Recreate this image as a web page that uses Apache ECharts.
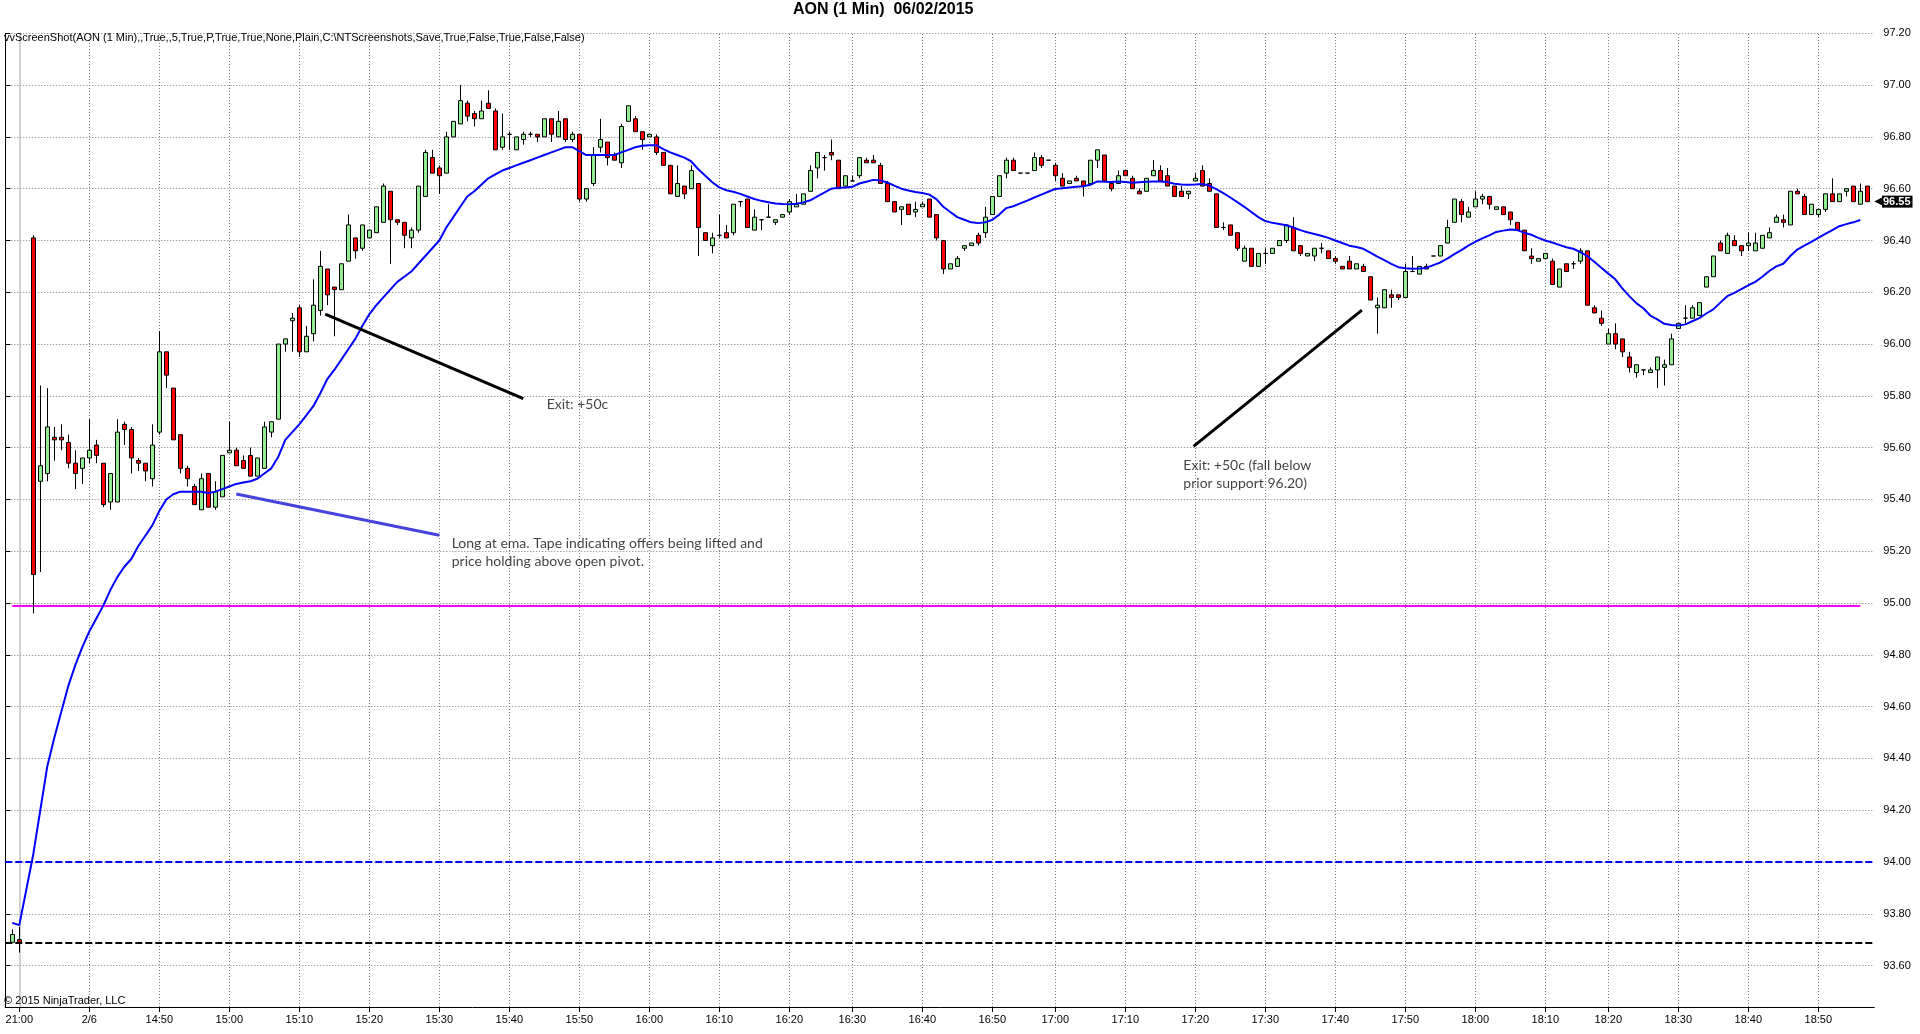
<!DOCTYPE html>
<html>
<head>
<meta charset="utf-8">
<script src="https://cdn.jsdelivr.net/npm/echarts@6/dist/echarts.min.js"></script>
<style>html,body{margin:0;padding:0;background:#fff;}#main{width:1920px;height:1034px;}</style>
</head>
<body>
<div id="main"></div>
<script>
// ---------------- data ----------------
const preSessionTimes = ['20:59', '21:00'];
const sessionFirst = '14:31';
const sessionLast = '18:57';
const missingMinutes = ['16:25', '16:55', '18:15'];

// OHLC per slot (slot 0 and last slot are empty padding, slot 3 has no bar)
const opens = [
  null, 93.69, 93.70, null, 96.41, 95.47, 95.50, 95.64, 95.64, 95.62,
  95.54, 95.52, 95.56, 95.61, 95.54, 95.39, 95.39, 95.69, 95.67, 95.55,
  95.54, 95.48, 95.66, 95.97, 95.83, 95.65, 95.52, 95.45, 95.36, 95.50,
  95.37, 95.41, 95.58, 95.59, 95.55, 95.57, 95.49, 95.52, 95.66, 95.71,
  96.00, 96.09, 96.14, 95.97, 96.04, 96.13, 96.29, 96.22, 96.21, 96.32,
  96.41, 96.37, 96.41, 96.43, 96.47, 96.59, 96.48, 96.47, 96.41, 96.44,
  96.57, 96.72, 96.68, 96.66, 96.80, 96.85, 96.93, 96.89, 96.87, 96.93,
  96.90, 96.76, 96.81, 96.75, 96.79, 96.81, 96.81, 96.80, 96.87, 96.80,
  96.87, 96.79, 96.81, 96.56, 96.62, 96.76, 96.78, 96.73, 96.70, 96.86,
  96.87, 96.82, 96.80, 96.80, 96.74, 96.69, 96.57, 96.61, 96.60, 96.62,
  96.43, 96.38, 96.42, 96.43, 96.43, 96.55, 96.56, 96.44, 96.48, 96.49,
  96.47, 96.49, 96.51, 96.53, 96.54, 96.59, 96.68, 96.72, 96.74, 96.71,
  96.61, 96.63, 96.65, 96.71, 96.71, 96.69, 96.62, 96.55, 96.52, 96.54,
  96.51, 96.53, 96.56, 96.50, 96.40, 96.29, 96.30, 96.37, 96.38, 96.42,
  96.43, 96.50, 96.57, 96.66, 96.71, 96.66, 96.66, 96.67, 96.72, 96.71,
  96.69, 96.64, 96.62, 96.64, 96.63, 96.62, 96.71, 96.73, 96.62, 96.62,
  96.67, 96.64, 96.59, 96.59, 96.65, 96.67, 96.65, 96.61, 96.59, 96.58,
  96.63, 96.67, 96.62, 96.58, 96.45, 96.46, 96.43, 96.32, 96.37, 96.30,
  96.35, 96.35, 96.38, 96.40, 96.45, 96.38, 96.34, 96.34, 96.37, 96.36,
  96.33, 96.30, 96.32, 96.29, 96.30, 96.26, 96.14, 96.14, 96.19, 96.19,
  96.18, 96.28, 96.27, 96.30, 96.34, 96.34, 96.39, 96.47, 96.55, 96.49,
  96.53, 96.56, 96.57, 96.52, 96.53, 96.51, 96.47, 96.44, 96.34, 96.32,
  96.33, 96.32, 96.22, 96.31, 96.31, 96.32, 96.36, 96.14, 96.10, 96.00,
  96.04, 96.02, 95.95, 95.89, 95.90, 95.89, 95.90, 95.91, 95.92, 96.06,
  96.10, 96.10, 96.11, 96.22, 96.26, 96.39, 96.35, 96.40, 96.38, 96.38,
  96.36, 96.37, 96.41, 96.47, 96.48, 96.46, 96.59, 96.57, 96.50, 96.50,
  96.52, 96.58, 96.55, 96.59, 96.61, 96.54, 96.61, null
];
const highs = [
  null, 93.74, 93.75, null, 96.42, 95.84, 95.83, 95.68, 95.69, 95.65,
  95.59, 95.56, 95.71, 95.63, 95.54, 95.50, 95.71, 95.70, 95.68, 95.56,
  95.54, 95.69, 96.05, 95.97, 95.83, 95.65, 95.53, 95.46, 95.50, 95.50,
  95.47, 95.57, 95.70, 95.60, 95.57, 95.60, 95.56, 95.70, 95.70, 96.00,
  96.02, 96.12, 96.15, 96.07, 96.25, 96.36, 96.29, 96.22, 96.31, 96.50,
  96.41, 96.46, 96.44, 96.53, 96.62, 96.59, 96.48, 96.47, 96.45, 96.61,
  96.75, 96.75, 96.69, 96.82, 96.86, 97.00, 96.94, 96.90, 96.94, 96.98,
  96.91, 96.89, 96.82, 96.80, 96.82, 96.82, 96.81, 96.87, 96.87, 96.90,
  96.87, 96.82, 96.81, 96.60, 96.76, 96.87, 96.78, 96.74, 96.85, 96.92,
  96.88, 96.82, 96.81, 96.81, 96.74, 96.69, 96.69, 96.61, 96.69, 96.62,
  96.43, 96.43, 96.50, 96.46, 96.54, 96.55, 96.56, 96.52, 96.48, 96.54,
  96.48, 96.50, 96.56, 96.58, 96.58, 96.69, 96.74, 96.73, 96.79, 96.71,
  96.65, 96.65, 96.72, 96.72, 96.73, 96.70, 96.63, 96.55, 96.53, 96.54,
  96.55, 96.55, 96.56, 96.50, 96.40, 96.31, 96.34, 96.38, 96.39, 96.43,
  96.53, 96.57, 96.65, 96.72, 96.72, 96.66, 96.66, 96.74, 96.73, 96.71,
  96.70, 96.66, 96.63, 96.65, 96.63, 96.71, 96.75, 96.73, 96.62, 96.67,
  96.67, 96.65, 96.60, 96.64, 96.71, 96.69, 96.68, 96.61, 96.61, 96.59,
  96.66, 96.69, 96.64, 96.58, 96.47, 96.46, 96.43, 96.38, 96.37, 96.35,
  96.37, 96.37, 96.40, 96.46, 96.49, 96.38, 96.35, 96.37, 96.39, 96.36,
  96.34, 96.30, 96.34, 96.31, 96.31, 96.26, 96.18, 96.21, 96.21, 96.19,
  96.31, 96.34, 96.30, 96.31, 96.34, 96.38, 96.48, 96.56, 96.56, 96.53,
  96.59, 96.58, 96.57, 96.53, 96.53, 96.51, 96.47, 96.44, 96.37, 96.33,
  96.35, 96.33, 96.29, 96.31, 96.32, 96.37, 96.36, 96.15, 96.13, 96.06,
  96.08, 96.02, 95.97, 95.92, 95.90, 95.91, 95.95, 95.94, 96.04, 96.08,
  96.15, 96.15, 96.16, 96.26, 96.34, 96.40, 96.43, 96.42, 96.38, 96.43,
  96.43, 96.42, 96.45, 96.50, 96.50, 96.59, 96.60, 96.58, 96.54, 96.52,
  96.58, 96.64, 96.58, 96.60, 96.61, 96.62, 96.61, null
];
const lows = [
  null, 93.69, 93.65, null, 94.96, 95.12, 95.47, 95.55, 95.59, 95.52,
  95.44, 95.46, 95.54, 95.54, 95.37, 95.36, 95.39, 95.61, 95.50, 95.51,
  95.47, 95.45, 95.65, 95.83, 95.63, 95.50, 95.45, 95.38, 95.36, 95.37,
  95.36, 95.41, 95.58, 95.53, 95.52, 95.49, 95.49, 95.52, 95.64, 95.71,
  95.97, 95.97, 95.95, 95.97, 96.01, 96.11, 96.15, 96.03, 96.21, 96.32,
  96.33, 96.36, 96.41, 96.43, 96.47, 96.31, 96.46, 96.37, 96.37, 96.43,
  96.57, 96.66, 96.58, 96.66, 96.80, 96.85, 96.86, 96.84, 96.87, 96.91,
  96.75, 96.75, 96.75, 96.75, 96.77, 96.80, 96.78, 96.80, 96.78, 96.80,
  96.78, 96.78, 96.55, 96.55, 96.61, 96.74, 96.69, 96.71, 96.68, 96.86,
  96.82, 96.75, 96.80, 96.73, 96.69, 96.58, 96.57, 96.56, 96.60, 96.34,
  96.40, 96.35, 96.41, 96.41, 96.42, 96.53, 96.45, 96.44, 96.44, 96.49,
  96.46, 96.49, 96.50, 96.53, 96.54, 96.59, 96.64, 96.67, 96.71, 96.60,
  96.61, 96.63, 96.64, 96.70, 96.70, 96.62, 96.55, 96.51, 96.46, 96.50,
  96.49, 96.53, 96.49, 96.40, 96.27, 96.29, 96.30, 96.36, 96.38, 96.38,
  96.41, 96.50, 96.57, 96.64, 96.67, 96.66, 96.66, 96.67, 96.68, 96.71,
  96.63, 96.61, 96.62, 96.63, 96.57, 96.62, 96.68, 96.63, 96.59, 96.62,
  96.65, 96.60, 96.58, 96.59, 96.65, 96.63, 96.61, 96.57, 96.57, 96.56,
  96.63, 96.61, 96.59, 96.45, 96.44, 96.42, 96.36, 96.32, 96.30, 96.30,
  96.31, 96.35, 96.38, 96.39, 96.36, 96.34, 96.34, 96.32, 96.35, 96.33,
  96.31, 96.29, 96.29, 96.29, 96.28, 96.17, 96.04, 96.14, 96.14, 96.17,
  96.18, 96.28, 96.27, 96.29, 96.34, 96.34, 96.39, 96.47, 96.47, 96.49,
  96.53, 96.54, 96.52, 96.52, 96.50, 96.46, 96.44, 96.36, 96.31, 96.32,
  96.33, 96.23, 96.22, 96.28, 96.29, 96.31, 96.15, 96.12, 96.07, 96.00,
  95.98, 95.95, 95.89, 95.87, 95.88, 95.89, 95.83, 95.84, 95.92, 96.06,
  96.08, 96.10, 96.11, 96.22, 96.26, 96.36, 96.35, 96.38, 96.34, 96.36,
  96.36, 96.37, 96.41, 96.47, 96.45, 96.46, 96.58, 96.50, 96.50, 96.49,
  96.51, 96.55, 96.55, 96.57, 96.55, 96.54, 96.55, null
];
const closes = [
  null, 93.72, 93.69, null, 95.11, 95.53, 95.68, 95.63, 95.63, 95.54,
  95.50, 95.56, 95.59, 95.57, 95.38, 95.50, 95.66, 95.67, 95.56, 95.54,
  95.51, 95.61, 95.97, 95.88, 95.63, 95.52, 95.48, 95.38, 95.48, 95.37,
  95.43, 95.57, 95.59, 95.53, 95.52, 95.49, 95.56, 95.68, 95.70, 96.00,
  96.02, 96.10, 95.97, 96.03, 96.15, 96.30, 96.19, 96.21, 96.31, 96.46,
  96.36, 96.46, 96.44, 96.53, 96.61, 96.48, 96.47, 96.42, 96.44, 96.61,
  96.74, 96.66, 96.65, 96.80, 96.86, 96.94, 96.88, 96.87, 96.90, 96.91,
  96.75, 96.80, 96.81, 96.80, 96.81, 96.81, 96.80, 96.87, 96.81, 96.86,
  96.79, 96.81, 96.56, 96.60, 96.73, 96.79, 96.72, 96.71, 96.84, 96.92,
  96.82, 96.79, 96.81, 96.74, 96.69, 96.58, 96.62, 96.58, 96.67, 96.45,
  96.40, 96.41, 96.42, 96.41, 96.54, 96.55, 96.45, 96.49, 96.48, 96.49,
  96.48, 96.50, 96.55, 96.54, 96.58, 96.67, 96.74, 96.72, 96.73, 96.60,
  96.65, 96.63, 96.72, 96.70, 96.70, 96.62, 96.55, 96.51, 96.53, 96.50,
  96.52, 96.54, 96.49, 96.41, 96.29, 96.31, 96.33, 96.38, 96.39, 96.39,
  96.49, 96.57, 96.65, 96.71, 96.67, 96.66, 96.66, 96.72, 96.69, 96.71,
  96.65, 96.61, 96.63, 96.63, 96.61, 96.71, 96.75, 96.63, 96.60, 96.65,
  96.65, 96.60, 96.58, 96.64, 96.67, 96.63, 96.61, 96.57, 96.57, 96.59,
  96.64, 96.61, 96.59, 96.45, 96.45, 96.42, 96.37, 96.37, 96.30, 96.35,
  96.35, 96.37, 96.40, 96.46, 96.36, 96.35, 96.35, 96.37, 96.37, 96.33,
  96.32, 96.29, 96.29, 96.31, 96.28, 96.17, 96.15, 96.21, 96.18, 96.18,
  96.28, 96.28, 96.30, 96.29, 96.34, 96.38, 96.45, 96.56, 96.50, 96.51,
  96.56, 96.57, 96.54, 96.53, 96.50, 96.48, 96.44, 96.36, 96.33, 96.33,
  96.35, 96.23, 96.29, 96.28, 96.31, 96.36, 96.15, 96.12, 96.08, 96.04,
  96.00, 95.97, 95.91, 95.92, 95.90, 95.90, 95.95, 95.92, 96.02, 96.08,
  96.10, 96.14, 96.16, 96.26, 96.34, 96.36, 96.42, 96.38, 96.36, 96.39,
  96.39, 96.42, 96.43, 96.49, 96.47, 96.59, 96.58, 96.50, 96.54, 96.52,
  96.58, 96.55, 96.58, 96.60, 96.55, 96.59, 96.55, null
];
// EMA indicator values read per slot
const emaValues = [
  null, 93.765, 93.756, null, 94.03, 94.20, 94.37, 94.48, 94.58, 94.68,
  94.76, 94.83, 94.89, 94.94, 94.99, 95.05, 95.10, 95.14, 95.17, 95.22,
  95.26, 95.30, 95.355, 95.40, 95.42, 95.43, 95.43, 95.43, 95.43, 95.425,
  95.43, 95.44, 95.45, 95.46, 95.465, 95.47, 95.48, 95.50, 95.52, 95.565,
  95.63, 95.66, 95.69, 95.725, 95.76, 95.81, 95.865, 95.90, 95.94, 95.98,
  96.02, 96.07, 96.115, 96.15, 96.18, 96.21, 96.24, 96.26, 96.28, 96.31,
  96.34, 96.37, 96.40, 96.45, 96.49, 96.53, 96.57, 96.59, 96.615, 96.64,
  96.655, 96.67, 96.68, 96.69, 96.70, 96.71, 96.72, 96.73, 96.74, 96.75,
  96.76, 96.76, 96.745, 96.73, 96.73, 96.73, 96.73, 96.73, 96.74, 96.75,
  96.76, 96.766, 96.768, 96.768, 96.753, 96.74, 96.73, 96.72, 96.705, 96.675,
  96.65, 96.625, 96.605, 96.594, 96.588, 96.58, 96.57, 96.56, 96.553, 96.548,
  96.543, 96.541, 96.54, 96.542, 96.547, 96.555, 96.57, 96.585, 96.60, 96.604,
  96.605, 96.607, 96.62, 96.627, 96.634, 96.632, 96.624, 96.612, 96.60, 96.593,
  96.587, 96.583, 96.577, 96.56, 96.53, 96.51, 96.49, 96.48, 96.47, 96.467,
  96.47, 96.48, 96.50, 96.525, 96.532, 96.543, 96.554, 96.566, 96.577, 96.588,
  96.599, 96.602, 96.605, 96.607, 96.609, 96.615, 96.628, 96.627, 96.626, 96.628,
  96.626, 96.623, 96.625, 96.627, 96.628, 96.628, 96.626, 96.619, 96.616, 96.615,
  96.616, 96.618, 96.612, 96.598, 96.583, 96.566, 96.548, 96.53, 96.51, 96.49,
  96.475, 96.468, 96.464, 96.459, 96.45, 96.44, 96.432, 96.425, 96.418, 96.41,
  96.40, 96.39, 96.38, 96.375, 96.368, 96.353, 96.338, 96.324, 96.31, 96.297,
  96.293, 96.291, 96.292, 96.294, 96.305, 96.315, 96.33, 96.347, 96.363, 96.38,
  96.395, 96.408, 96.42, 96.433, 96.438, 96.442, 96.44, 96.43, 96.422, 96.41,
  96.40, 96.392, 96.383, 96.374, 96.368, 96.355, 96.34, 96.318, 96.295, 96.272,
  96.25, 96.215, 96.185, 96.158, 96.138, 96.11, 96.095, 96.078, 96.074, 96.072,
  96.076, 96.088, 96.10, 96.118, 96.134, 96.16, 96.185, 96.198, 96.212, 96.227,
  96.24, 96.26, 96.282, 96.30, 96.31, 96.34, 96.365, 96.38, 96.395, 96.41,
  96.425, 96.44, 96.455, 96.463, 96.47, 96.479, null, null
];

const tickTimes = ['21:00', '14:40', '14:50', '15:00', '15:10', '15:20', '15:30', '15:40', '15:50',
  '16:00', '16:10', '16:20', '16:30', '16:40', '16:50', '17:00', '17:10', '17:20', '17:30',
  '17:40', '17:50', '18:00', '18:10', '18:20', '18:30', '18:40', '18:50'];
const tickTexts = ['21:00', '2/6', '14:50', '15:00', '15:10', '15:20', '15:30', '15:40', '15:50',
  '16:00', '16:10', '16:20', '16:30', '16:40', '16:50', '17:00', '17:10', '17:20', '17:30',
  '17:40', '17:50', '18:00', '18:10', '18:20', '18:30', '18:40', '18:50'];
const yTicks = [93.6, 93.8, 94.0, 94.2, 94.4, 94.6, 94.8, 95.0, 95.2, 95.4, 95.6, 95.8,
  96.0, 96.2, 96.4, 96.6, 96.8, 97.0, 97.2];

const pivotLevel = 94.99;      // magenta
const blueLevel = 94.00;       // blue dashed
const blackLevel = 93.69;      // black dashed
const lastPrice = 96.55;
const sessionBreak = '21:00';

// annotation lines: [slot, price]
const exitLine1 = [[45.7, 96.116], [74.0, 95.789]];
const entryLine = [[33.0, 95.421], [62.0, 95.262]];
const exitLine2 = [[169.75, 95.605], [193.8, 96.131]];
const notes = [
  { text: 'Exit: +50c', at: [77.34, 95.765] },
  { text: 'Long at ema. Tape indicating offers being lifted and\nprice holding above open pivot.', at: [63.77, 95.197] },
  { text: 'Exit: +50c (fall below\nprior support 96.20)', at: [168.29, 95.498] }
];

// ---------------- build ----------------
function toMin(s) { const p = s.split(':'); return (+p[0]) * 60 + (+p[1]); }
function toStr(m) { return String(Math.floor(m / 60)).padStart(2, '0') + ':' + String(m % 60).padStart(2, '0'); }
const times = [''].concat(preSessionTimes);
for (let m = toMin(sessionFirst); m <= toMin(sessionLast); m++) {
  const t = toStr(m);
  if (missingMinutes.indexOf(t) < 0) times.push(t);
}
times.push(' ');

const labelFor = {};
tickTimes.forEach((t, i) => { labelFor[t] = tickTexts[i]; });
const tickIdx = new Set();
times.forEach((t, i) => { if (labelFor[t] !== undefined) tickIdx.add(i); });

const candleData = times.map((t, i) => opens[i] == null ? '-' : [opens[i], closes[i], lows[i], highs[i]]);
const emaData = times.map((t, i) => emaValues[i] == null ? '-' : emaValues[i]);

const FONT = 'Liberation Sans, Arial, sans-serif';
const gridLine = { color: '#7a7a7a', width: 1, type: [1, 2] };
const gridMarks = []
  .concat(tickTimes.filter(t => t !== sessionBreak).map(t => ({ xAxis: t, lineStyle: gridLine })))
  .concat(yTicks.map(v => ({ yAxis: v, lineStyle: gridLine })));

const chart = echarts.init(document.getElementById('main'), null, { renderer: 'canvas' });
chart.setOption({
  animation: false,
  backgroundColor: '#ffffff',
  title: {
    text: 'AON (1 Min)  06/02/2015',
    left: 793, top: 2, padding: 0,
    textStyle: { fontFamily: FONT, fontSize: 16, fontWeight: 'bold', color: '#000' }
  },
  grid: { left: 5.3, right: 45.7, top: 33.3, bottom: 27, containLabel: false, outerBoundsMode: 'none' },
  xAxis: [{
    type: 'category', data: times, boundaryGap: false,
    axisLine: { lineStyle: { color: '#000', width: 1 } },
    axisTick: { interval: (i) => tickIdx.has(i), length: 5, lineStyle: { color: '#000' } },
    axisLabel: { interval: (i) => tickIdx.has(i), formatter: (v) => labelFor[v] || '',
      color: '#000', fontSize: 11, fontFamily: FONT, margin: 7 },
    splitLine: { show: false }
  }, {
    type: 'value', min: 0, max: times.length - 1, show: false, splitLine: { show: false }
  }],
  yAxis: {
    type: 'value', position: 'right', min: 93.44, max: 97.2, scale: true,
    axisLine: { show: true, lineStyle: { color: '#000', width: 1 } },
    axisTick: { show: true, length: 5, customValues: yTicks, lineStyle: { color: '#000' } },
    axisLabel: { customValues: yTicks, formatter: (v) => v.toFixed(2), color: '#000',
      fontSize: 11, fontFamily: FONT, margin: 9 },
    splitLine: { show: false }
  },
  graphic: [
    { type: 'text', left: 4, top: 32, z: 100,
      style: { text: 'vvScreenShot(AON (1 Min),,True,,5,True,P,True,True,None,Plain,C:\\NTScreenshots,Save,True,False,True,False,False)',
        font: '11px ' + FONT, fill: '#000' } },
    { type: 'text', left: 4, top: 995, z: 100,
      style: { text: '\u00a9 2015 NinjaTrader, LLC', font: '11px ' + FONT, fill: '#000' } }
  ],
  series: [
    {
      type: 'line', name: 'grid', xAxisIndex: 0, yAxisIndex: 0, data: [], z: 0,
      markLine: { silent: true, symbol: ['none', 'none'], animation: false, z: 0,
        label: { show: false }, data: gridMarks }
    },
    {
      type: 'candlestick', name: 'AON', xAxisIndex: 0, yAxisIndex: 0,
      data: candleData, barWidth: 4, z: 2,
      itemStyle: { color: '#90EE90', color0: '#FF0000', borderColor: '#000', borderColor0: '#000',
        borderColorDoji: '#000', borderWidth: 1 },
      markLine: {
        silent: true, symbol: ['none', 'none'], animation: false, z: 1,
        label: { show: false },
        data: [
          { xAxis: sessionBreak, lineStyle: { color: '#c0c0c0', width: 1.5, type: 'solid' } },
          { yAxis: blueLevel, lineStyle: { color: '#0000FF', width: 2, type: [7, 3] } },
          { yAxis: blackLevel, lineStyle: { color: '#000000', width: 2, type: [7, 3] } },
          [{ coord: ['20:59', pivotLevel], lineStyle: { color: '#FF00FF', width: 2, type: 'solid' } },
           { coord: ['18:56', pivotLevel] }]
        ]
      }
    },
    {
      type: 'line', name: 'EMA', xAxisIndex: 0, yAxisIndex: 0, data: emaData,
      connectNulls: true, symbol: 'none', z: 3,
      lineStyle: { color: '#0000FF', width: 2 }
    },
    {
      type: 'line', name: 'last', xAxisIndex: 0, yAxisIndex: 0, data: [], clip: false, z: 10,
      markLine: {
        silent: true, symbol: ['none', 'none'], animation: false, z: 10,
        data: [{ yAxis: lastPrice,
          lineStyle: { color: 'rgba(0,0,0,0)', width: 1 },
          label: { show: true, position: 'end', distance: 0,
            formatter: '{a|\u25C0}{b|' + lastPrice.toFixed(2) + '}',
            rich: {
              a: { fontFamily: 'DejaVu Sans', fontSize: 10, color: '#000', lineHeight: 12 },
              b: { fontFamily: FONT, fontSize: 11, fontWeight: 'bold', color: '#fff',
                backgroundColor: '#000', padding: [1, 2, 0, 1], lineHeight: 12 }
            } } }]
      }
    },
    { type: 'line', xAxisIndex: 1, yAxisIndex: 0, data: exitLine1, symbol: 'none', z: 5,
      lineStyle: { color: '#000', width: 3 } },
    { type: 'line', xAxisIndex: 1, yAxisIndex: 0, data: entryLine, symbol: 'none', z: 5,
      lineStyle: { color: '#4444DD', width: 3 } },
    { type: 'line', xAxisIndex: 1, yAxisIndex: 0, data: exitLine2, symbol: 'none', z: 5,
      lineStyle: { color: '#000', width: 3 } },
    { type: 'scatter', xAxisIndex: 1, yAxisIndex: 0, symbolSize: 0, z: 6,
      data: notes.map(n => ({ name: n.text, value: n.at })),
      label: { show: true, position: 'right', distance: 0, formatter: '{b}', align: 'left',
        color: '#111', fontFamily: 'Lato, Noto Sans, sans-serif', fontSize: 14, lineHeight: 18 } }
  ]
});
</script>
</body>
</html>
